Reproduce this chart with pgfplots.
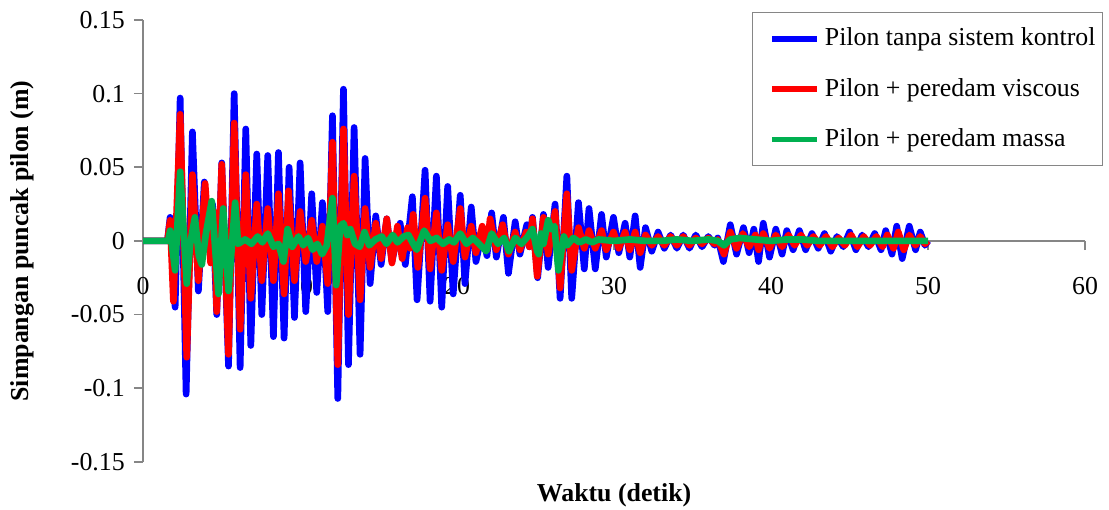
\documentclass[border=0pt]{standalone}
\usepackage{fontspec}
\setmainfont{Liberation Serif}
\usepackage{pgfplots}
\pgfplotsset{compat=1.18}
\definecolor{cblue}{RGB}{0,0,255}
\definecolor{cred}{RGB}{255,0,0}
\definecolor{cgreen}{RGB}{0,176,80}
\definecolor{axgray}{RGB}{134,134,134}
\begin{document}
\fontsize{9.3}{11}\selectfont
\begin{tikzpicture}
\begin{axis}[
  width=339pt, height=159pt, scale only axis,
  xmin=0, xmax=60, ymin=-0.15, ymax=0.15,
  axis x line=middle, axis y line=left,
  hide obscured x ticks=false, hide obscured y ticks=false,
  axis line style={-, draw=axgray, line width=0.6pt},
  xtick={0,10,20,30,40,50,60}, xticklabels={0,10,20,30,40,50,60},
  ytick={-0.15,-0.1,-0.05,0,0.05,0.1,0.15},
  yticklabels={-0.15,-0.1,-0.05,0,0.05,0.1,0.15},
  tick style={draw=axgray, line width=0.6pt},
  tick align=outside, major tick length=3.3pt,
  xticklabel style={yshift=-6.5pt, font=\fontsize{9.3}{11}\selectfont},
  yticklabel style={font=\fontsize{9.3}{11}\selectfont},
  xlabel={\textbf{Waktu (detik)}},
  ylabel={\textbf{Simpangan puncak pilon (m)}},
  xlabel style={at={(axis description cs:0.5,-0.075)}, anchor=center, font=\fontsize{9.3}{11}\selectfont},
  ylabel style={at={(axis description cs:-0.128,0.5)}, anchor=center, font=\fontsize{9.3}{11}\selectfont},
  legend image code/.code={\path (0pt,0pt); \draw[#1, line width=2pt] (5.5pt,0pt) -- (21.5pt,0pt);},
  legend style={at={(axis description cs:1.019,1.018)}, anchor=north east, draw=axgray, fill=white,
    inner xsep=0.5pt, inner ysep=3.5pt, row sep=6.3pt, font=\fontsize{9.3}{11}\selectfont,
    cells={anchor=west}},
]
\addplot[cblue, line width=2.4pt, line join=round] coordinates {
(0,0)(1.55,0)(1.72,0.016)(2.04,-0.045)(2.36,0.097)(2.74,-0.104)(3.14,0.074)(3.52,-0.034)(3.9,0.040)(4.2,-0.004)(4.42,0.025)(4.69,-0.050)(5.01,0.053)(5.44,-0.085)(5.80,0.100)(6.18,-0.086)(6.54,0.076)(6.86,-0.071)(7.24,0.059)(7.56,-0.050)(7.94,0.058)(8.30,-0.065)(8.62,0.060)(8.98,-0.066)(9.30,0.050)(9.64,-0.052)(10.00,0.053)(10.36,-0.048)(10.74,0.032)(11.06,-0.035)(11.42,0.026)(11.76,-0.048)(12.06,0.085)(12.40,-0.107)(12.76,0.103)(13.08,-0.084)(13.44,0.077)(13.82,-0.077)(14.14,0.056)(14.46,-0.029)(14.82,0.017)(15.16,-0.016)(15.52,0.015)(15.85,-0.014)(16.37,0.012)(16.7,-0.016)(17.15,0.030)(17.45,-0.040)(17.96,0.048)(18.28,-0.041)(18.68,0.044)(19.02,-0.045)(19.4,0.037)(19.75,-0.036)(20.2,0.031)(20.5,-0.029)(20.9,0.023)(21.2,-0.014)(21.6,0.006)(21.9,-0.010)(22.2,0.019)(22.5,-0.011)(22.95,0.016)(23.27,-0.022)(23.7,0.013)(24.0,-0.009)(24.44,0.011)(24.6,-0.004)(24.8,0.016)(25.13,-0.025)(25.5,0.018)(25.8,-0.018)(26.24,0.025)(26.56,-0.039)(26.99,0.044)(27.3,-0.039)(27.73,0.026)(28.1,-0.019)(28.4,0.022)(28.8,-0.019)(29.2,0.018)(29.5,-0.011)(29.96,0.016)(30.3,-0.008)(30.7,0.012)(31.0,-0.011)(31.34,0.017)(31.66,-0.018)(32.0,0.009)(32.4,-0.007)(32.8,0.006)(33.2,-0.005)(33.6,0.004)(34.0,-0.005)(34.4,0.004)(34.8,-0.005)(35.2,0.004)(35.6,-0.004)(36.0,0.003)(36.4,-0.003)(36.6,0.002)(36.96,-0.014)(37.4,0.011)(37.8,-0.009)(38.24,0.009)(38.6,-0.008)(38.9,0.008)(39.2,-0.014)(39.5,0.012)(39.9,-0.011)(40.3,0.008)(40.7,-0.009)(41.0,0.007)(41.4,-0.006)(41.8,0.007)(42.2,-0.006)(42.6,0.005)(43.0,-0.005)(43.4,0.005)(43.8,-0.007)(44.2,0.003)(44.6,-0.004)(45.0,0.006)(45.4,-0.006)(45.8,0.004)(46.2,-0.004)(46.6,0.005)(47.0,-0.006)(47.3,0.007)(47.7,-0.009)(48.0,0.010)(48.35,-0.012)(48.8,0.010)(49.2,-0.006)(49.5,0.006)(49.8,-0.003)(50.0,0)
};
\addplot[cred, line width=2.4pt, line join=round] coordinates {
(0,0)(1.55,0)(1.72,0.014)(1.93,-0.041)(2.36,0.086)(2.78,-0.079)(3.14,0.045)(3.52,-0.027)(3.95,0.039)(4.3,-0.015)(4.5,0.020)(4.69,-0.048)(5.01,0.052)(5.44,-0.077)(5.80,0.080)(6.18,-0.060)(6.54,0.045)(6.86,-0.039)(7.24,0.025)(7.56,-0.027)(7.94,0.022)(8.30,-0.027)(8.62,0.032)(8.98,-0.036)(9.26,0.034)(9.64,-0.027)(10.00,0.020)(10.36,-0.014)(10.74,0.014)(11.06,-0.014)(11.42,0.010)(11.76,-0.029)(12.06,0.067)(12.40,-0.084)(12.76,0.076)(13.08,-0.050)(13.44,0.044)(13.82,-0.040)(14.14,0.022)(14.46,-0.018)(14.82,0.012)(15.16,-0.012)(15.52,0.015)(15.85,-0.015)(16.2,0.010)(16.5,-0.012)(16.85,0.009)(17.0,-0.005)(17.2,0.018)(17.5,-0.018)(17.96,0.029)(18.28,-0.019)(18.68,0.019)(19.02,-0.020)(19.4,0.011)(19.75,-0.014)(20.2,0.022)(20.5,-0.011)(20.9,0.010)(21.2,-0.008)(21.6,0.010)(21.9,-0.006)(22.1,0.015)(22.5,-0.006)(22.9,0.011)(23.27,-0.009)(23.7,0.006)(24.0,-0.006)(24.4,0.006)(24.6,-0.004)(24.8,0.015)(25.1,-0.024)(25.5,0.016)(25.8,-0.009)(26.24,0.020)(26.56,-0.032)(26.99,0.032)(27.3,-0.020)(27.73,0.009)(28.1,-0.005)(28.4,0.007)(28.8,-0.005)(29.2,0.007)(29.5,-0.006)(29.96,0.006)(30.3,-0.005)(30.7,0.006)(31.0,-0.006)(31.34,0.006)(31.66,-0.008)(32.0,0.004)(32.4,-0.003)(32.8,0.003)(33.2,-0.003)(33.6,0.003)(34.0,-0.003)(34.4,0.003)(34.8,-0.003)(35.2,0.002)(35.6,-0.002)(36.0,0.002)(36.4,-0.002)(36.6,0.001)(37.0,-0.009)(37.4,0.006)(37.8,-0.005)(38.2,0.005)(38.6,-0.004)(39.0,0.004)(39.2,-0.006)(39.5,0.005)(39.9,-0.005)(40.3,0.004)(40.7,-0.004)(41.1,0.004)(41.5,-0.003)(41.9,0.004)(42.3,-0.003)(42.7,0.003)(43.1,-0.003)(43.5,0.003)(43.9,-0.004)(44.3,0.002)(44.7,-0.003)(45.1,0.004)(45.5,-0.004)(45.9,0.003)(46.3,-0.003)(46.7,0.003)(47.1,-0.004)(47.4,0.004)(47.8,-0.005)(48.1,0.006)(48.45,-0.006)(48.8,0.004)(49.2,-0.003)(49.5,0.003)(49.8,-0.002)(50.0,0)
};
\addplot[cgreen, line width=2.4pt, line join=round] coordinates {
(0,0)(1.6,0)(1.72,0.007)(2.04,-0.020)(2.36,0.047)(2.78,-0.029)(3.0,-0.002)(3.3,0.016)(3.55,-0.010)(3.74,-0.016)(4.0,0.005)(4.37,0.027)(4.8,-0.036)(5.1,0.022)(5.44,-0.034)(5.86,0.026)(6.05,-0.002)(6.5,0.001)(6.9,-0.002)(7.3,0.003)(7.6,-0.001)(7.94,0.005)(8.3,-0.004)(8.62,-0.002)(8.94,-0.014)(9.2,0.008)(9.5,-0.004)(9.9,0.003)(10.2,-0.003)(10.5,0.002)(10.8,-0.006)(11.1,-0.002)(11.4,-0.009)(11.7,-0.003)(12.06,0.029)(12.3,-0.030)(12.55,0.010)(12.76,0.012)(13.0,0.004)(13.2,0.008)(13.5,-0.002)(13.8,-0.004)(14.1,0.006)(14.4,-0.003)(14.8,0.001)(15.2,0.003)(15.5,-0.002)(15.9,0.004)(16.2,-0.001)(16.6,0.003)(16.9,0.004)(17.2,-0.002)(17.43,-0.006)(17.9,0.007)(18.3,0.000)(18.7,0.002)(19.1,-0.002)(19.5,0.001)(19.8,-0.001)(20.2,0.005)(20.6,-0.002)(21.0,0.002)(21.4,-0.002)(21.85,-0.007)(22.2,0.005)(22.6,-0.002)(23.0,0.002)(23.3,-0.007)(23.7,0.002)(24.1,-0.002)(24.5,0.003)(24.8,0.008)(25.1,-0.007)(25.2,-0.009)(25.35,0.005)(25.5,-0.002)(25.8,0.014)(26.0,0.008)(26.2,0.010)(26.45,-0.020)(26.8,0.003)(27.0,-0.003)(27.4,0.002)(27.8,-0.001)(28.2,0.001)(28.6,-0.001)(29.0,0.001)(30,0)(31,0.001)(32,0)(33,0.000)(34,0.001)(35,0)(36,0.001)(36.6,0.000)(37.0,-0.003)(37.4,0.001)(38,0.002)(39,0.001)(40,0.000)(41,0.001)(42,0.001)(43,0)(44,0)(45,0)(46,0)(47,0)(48,0)(49,0)(50,0)
};
\legend{Pilon tanpa sistem kontrol, Pilon + peredam viscous, Pilon + peredam massa}
\coordinate (ll) at (rel axis cs:0,0);
\coordinate (ur) at (rel axis cs:1,1);
\end{axis}
\pgfresetboundingbox
\path[use as bounding box] ([shift={(-51.5pt,-17.3pt)}]ll) rectangle ([shift={(8.6pt,7.2pt)}]ur);
\end{tikzpicture}
\end{document}
